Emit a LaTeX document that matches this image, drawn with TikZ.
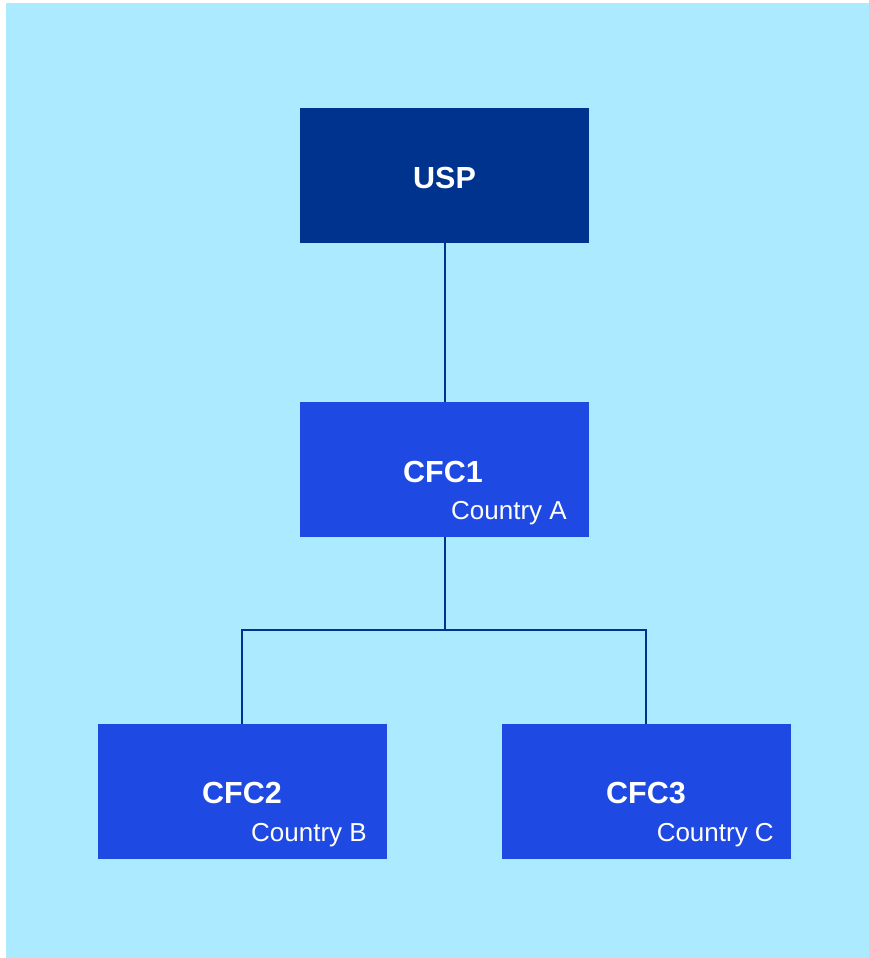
\documentclass[tikz,border=0pt]{standalone}
\usepackage{fontspec}
\setmainfont{Liberation Sans}
\definecolor{pagebg}{HTML}{ACEAFF}
\definecolor{navy}{HTML}{00338D}
\definecolor{cobalt}{HTML}{1E49E2}
\tikzset{
  entity/.style={rectangle, inner sep=0pt, minimum width=289pt, minimum height=135pt},
  parentbox/.style={entity, fill=navy},
  childbox/.style={entity, fill=cobalt},
  title/.style={text=white, font=\fontsize{30.5}{36}\selectfont\bfseries, anchor=base, inner sep=0pt},
  country/.style={text=white, font=\fontsize{26}{31}\selectfont, anchor=base east, inner sep=0pt},
  link/.style={draw=navy, line width=2pt}
}
\begin{document}
\begin{tikzpicture}[x=1pt, y=-1pt]
  \useasboundingbox (0,0) rectangle (869,958);
  \fill[white] (0,0) rectangle (869,958);
  \fill[pagebg] (6,3) rectangle (869,958);

  % entity boxes
  \node[parentbox] (usp)  at (444.5,175) {};
  \node[childbox]  (cfc1) at (444.5,469.5) {};
  \node[childbox]  (cfc2) at (242,791.5) {};
  \node[childbox]  (cfc3) at (646,791.5) {};

  % ownership links
  \coordinate (split) at (444.5,630);
  \draw[link] (usp.south) -- (cfc1.north);
  \draw[link] (cfc1.south) -- (split);
  \draw[link] (cfc2.north) |- (split) -| (cfc3.north);

  % labels
  \node[title] (uspname) at (444.5,188) {USP};
  \node[title] (cfc1name) at (443,482) {CFC1};
  \node[country] (cfc1country) at (567,519) {Country A};
  \node[title] (cfc2name) at (242,803) {CFC2};
  \node[country] (cfc2country) at (367,841) {Country B};
  \node[title] (cfc3name) at (646,803) {CFC3};
  \node[country] (cfc3country) at (774,841) {Country C};
\end{tikzpicture}
\end{document}
